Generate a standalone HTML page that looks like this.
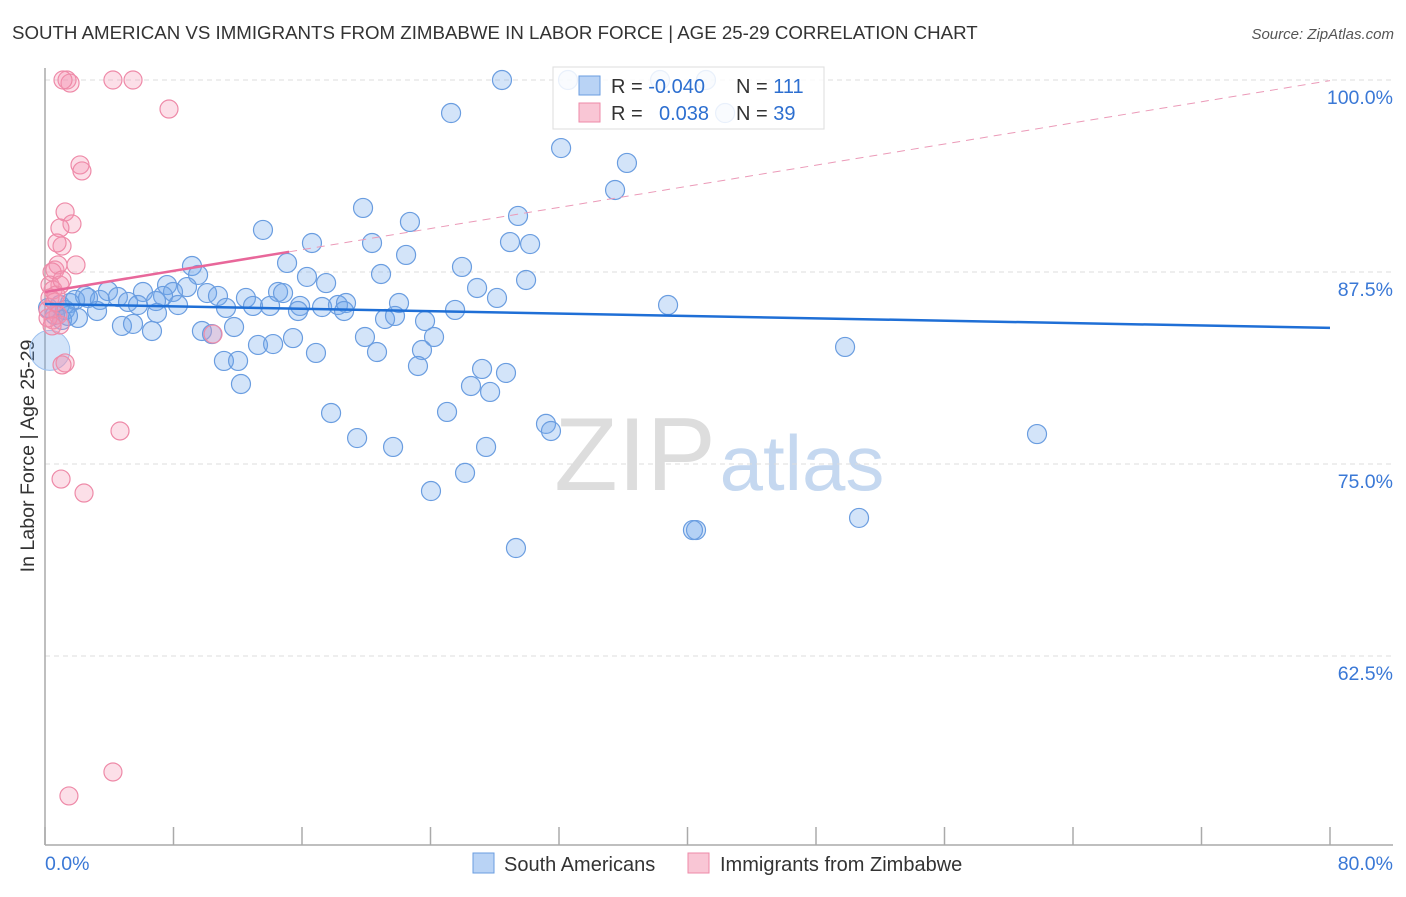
<!DOCTYPE html>
<html><head><meta charset="utf-8"><style>
body{margin:0;background:#fff;font-family:"Liberation Sans",sans-serif;}
svg text{font-family:"Liberation Sans",sans-serif;}
</style></head><body>
<svg id="chart" width="1406" height="892" xmlns="http://www.w3.org/2000/svg">
<text x="12" y="39" font-size="18.7" fill="#333">SOUTH AMERICAN VS IMMIGRANTS FROM ZIMBABWE IN LABOR FORCE | AGE 25-29 CORRELATION CHART</text>
<text x="1394" y="39" font-size="15" fill="#555" text-anchor="end" font-style="italic">Source: ZipAtlas.com</text>
<text transform="translate(34,456) rotate(-90)" font-size="19.6" fill="#333" text-anchor="middle">In Labor Force | Age 25-29</text>
<g><text x="635" y="490" font-size="104" fill="#ddd" font-family="Liberation Serif" text-anchor="middle">ZIP</text><text x="802" y="490" font-size="78" fill="#c5d8f0" text-anchor="middle">atlas</text></g>
<g id="grid"></g><g id="axes"></g><g id="pts"></g><g id="lines"></g>
<g>
<rect x="553" y="67" width="271" height="62" fill="#fff" fill-opacity="0.85" stroke="#ddd"/>
<rect x="579" y="76" width="21" height="19" fill="#b9d3f5" stroke="#6a9de0"/>
<rect x="579" y="103" width="21" height="19" fill="#f9c6d5" stroke="#ee8aa8"/>
<text x="611" y="93" font-size="20" fill="#333">R = <tspan fill="#2d6fd0">-0.040</tspan></text>
<text x="736" y="93" font-size="20" fill="#333">N = <tspan fill="#2d6fd0">111</tspan></text>
<text x="611" y="120" font-size="20" fill="#333">R = <tspan fill="#2d6fd0" x="659">0.038</tspan></text>
<text x="736" y="120" font-size="20" fill="#333">N = <tspan fill="#2d6fd0">39</tspan></text>
</g>
<g>
<rect x="473" y="853" width="21" height="20" fill="#b9d3f5" stroke="#6a9de0"/>
<text x="504" y="871" font-size="20" fill="#333">South Americans</text>
<rect x="688" y="853" width="21" height="20" fill="#f9c6d5" stroke="#ee8aa8"/>
<text x="720" y="871" font-size="20" fill="#333">Immigrants from Zimbabwe</text>
</g>
</svg>
<script>
const yTicks=[100,87.5,75,62.5];
const yTickLabels=["100.0%","87.5%","75.0%","62.5%"];
const xTicks=[0,8,16,24,32,40,48,56,64,72,80];
const xLabels=["0.0%","80.0%"];
const blueX=[28.45,25.28,32.13,36.23,35.49,19.80,29.45,22.72,13.57,16.62,20.36,28.95,30.20,22.48,15.07,25.96,9.15,9.53,20.92,16.31,17.50,29.95,26.90,7.60,8.84,3.92,6.10,7.97,7.35,10.09,10.77,12.51,14.51,14.82,28.14,38.79,2.49,3.42,4.54,5.17,5.79,6.91,8.28,11.27,12.95,14.01,15.88,17.25,18.24,18.74,22.04,18.62,15.75,25.53,0.93,1.56,1.87,1.25,2.05,3.24,6.97,21.17,21.79,23.66,4.79,5.48,6.66,9.77,11.77,10.40,15.44,19.92,24.22,13.26,14.20,16.87,20.67,23.47,49.81,11.14,12.02,23.22,27.21,28.70,26.52,27.71,12.20,17.81,25.03,31.19,31.50,19.43,21.67,27.46,61.76,26.15,24.03,50.68,40.53,40.34,29.32,1.06,0.62,0.19,1.43,2.68,32.56,38.29,41.15,42.34];
const blueY=[100,97.85,95.57,94.6,92.84,91.67,91.15,90.76,90.24,89.39,89.39,89.45,89.32,88.61,88.09,87.83,87.89,87.31,87.37,87.18,86.78,86.98,86.46,86.65,86.52,86.26,86.20,86.20,85.94,86.13,85.94,85.81,86.20,86.13,85.81,85.35,85.94,85.68,85.87,85.55,85.35,85.61,85.35,85.16,85.29,85.29,85.29,85.22,85.35,85.48,85.48,84.96,84.96,85.03,85.35,85.48,85.68,85.03,84.51,84.96,84.83,84.44,84.64,84.31,83.99,84.12,83.66,83.66,83.92,83.46,83.20,83.27,83.27,82.75,82.81,82.23,82.29,82.42,82.62,81.71,81.71,81.38,81.19,80.93,80.08,79.69,80.21,78.32,78.39,77.61,77.15,76.69,76.11,76.11,76.95,74.42,73.24,71.49,70.70,70.70,69.53,84.38,84.70,85.16,84.64,85.81,100,100,100,97.85];
const bigBlue=[0.3,82.4];
const pinkX=[1.37,1.56,1.12,4.23,5.48,7.72,2.18,2.30,1.25,1.68,0.93,1.06,0.75,1.93,0.62,0.81,0.44,0.93,0.31,0.50,0.31,0.62,0.19,0.81,0.50,0.93,10.46,1.25,1.06,4.67,1.00,2.43,4.23,1.49,0.68,1.06,0.19,0.44];
const pinkY=[100,99.8,100,100,100,98.11,94.47,94.08,91.41,90.63,90.37,89.19,89.39,87.96,87.63,87.96,87.50,86.65,86.65,86.33,85.81,85.55,85.03,84.70,84.38,84.05,83.46,81.58,81.45,77.15,74.02,73.11,54.95,53.39,86.0,86.98,84.51,83.99];
const blueTrend=[85.42,83.86];
const pinkTrend=[86.2,0.172];
const X0=45,X1=1330,Y100=80,PXPER=15.36;
const sx=v=>X0+(X1-X0)*v/80, sy=v=>Y100+(100-v)*PXPER;
const NS="http://www.w3.org/2000/svg";
function mk(tag,attrs,parent){const e=document.createElementNS(NS,tag);for(const k in attrs)e.setAttribute(k,attrs[k]);document.getElementById(parent).appendChild(e);return e;}
yTicks.forEach((t,i)=>{
 const l=mk('line',{x1:X0,x2:1393,y1:sy(t),y2:sy(t),stroke:'#ddd','stroke-dasharray':'5,4'},'grid');
 
 
 const tx=mk('text',{x:1393,y:sy(t)+24,'font-size':19.5,fill:'#3a78d6','text-anchor':'end'},'grid');tx.textContent=yTickLabels[i];
 
 
});
let a=mk('line',{x1:X0,x2:X0,y1:68,y2:845,stroke:'#aaa','stroke-width':1.5},'axes');


a=mk('line',{x1:X0,x2:1393,y1:845,y2:845,stroke:'#aaa','stroke-width':1.5},'axes');


xTicks.forEach(t=>{const l=mk('line',{x1:sx(t),x2:sx(t),y1:827,y2:845,stroke:'#aaa','stroke-width':1.5},'axes');
 
 });
let t0=mk('text',{x:45,y:870,'font-size':19.5,fill:'#3a78d6'},'axes');t0.textContent=xLabels[0];


t0=mk('text',{x:1393,y:870,'font-size':19.5,fill:'#3a78d6','text-anchor':'end'},'axes');t0.textContent=xLabels[1];


blueX.forEach((x,i)=>{const c=mk('circle',{cx:sx(x),cy:sy(blueY[i]),r:9.5,fill:'rgba(110,165,235,0.3)',stroke:'#6a9de0','stroke-width':1.2},'pts');
 
 });
let bb=mk('circle',{cx:sx(bigBlue[0]),cy:sy(bigBlue[1]),r:20,fill:'rgba(110,165,235,0.3)',stroke:'#9cc0ee','stroke-width':1},'pts');


pinkX.forEach((x,i)=>{const c=mk('circle',{cx:sx(x),cy:sy(pinkY[i]),r:9,fill:'rgba(245,150,180,0.3)',stroke:'#ee8aa8','stroke-width':1.2},'pts');
 
 });
let ln=mk('line',{x1:sx(0),y1:sy(blueTrend[0]),x2:sx(80),y2:sy(blueTrend[1]),stroke:'#1f6fd6','stroke-width':2.5},'lines');


ln=mk('line',{x1:sx(0),y1:sy(pinkTrend[0]),x2:sx(15.2),y2:sy(pinkTrend[0]+pinkTrend[1]*15.2),stroke:'#e8679a','stroke-width':2.5},'lines');


ln=mk('line',{x1:sx(15.2),y1:sy(pinkTrend[0]+pinkTrend[1]*15.2),x2:sx(80),y2:sy(pinkTrend[0]+pinkTrend[1]*80),stroke:'#eb9ab8','stroke-width':1,'stroke-dasharray':'8,6'},'lines');


</script>
</body></html>
